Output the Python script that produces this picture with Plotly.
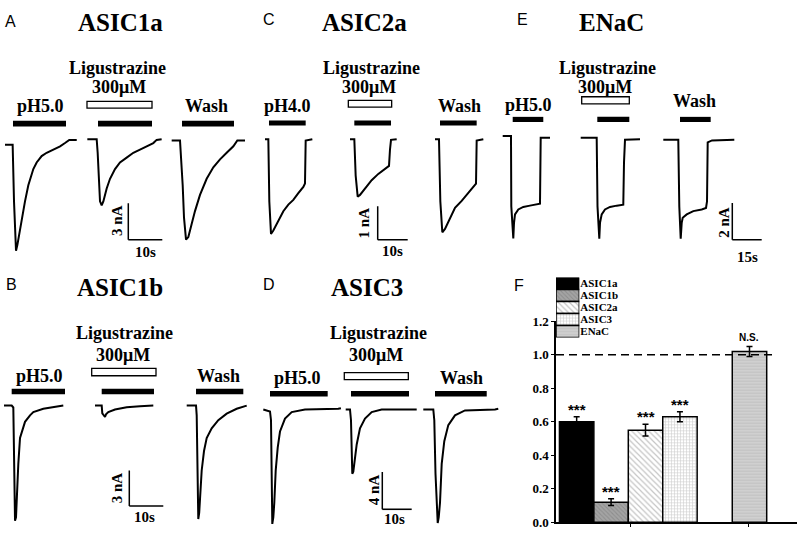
import plotly.graph_objects as go

# ---------------- data ----------------
# Whole-cell currents (time in s, current in nA), one list per sweep:
# [acid alone, acid + ligustrazine 300 uM, wash]

# A - ASIC1a, pH5.0
asic1a_t = [
    [0, 2.25, 2.65, 3.04, 3.24, 3.63, 4.22, 4.9, 5.88, 6.86, 8.33, 9.31, 10.78, 12.25, 14.2, 16.2, 17.65, 18.9, 21.1],
    [0, 2.75, 3.04, 3.73, 4.22, 4.71, 5.69, 6.67, 8.14, 9.61, 11.57, 13.53, 15.49, 17.45, 19.41, 20.39, 21.86],
    [0, 2.45, 3.24, 3.63, 4.22, 4.9, 5.88, 6.86, 8.33, 10.29, 12.25, 14.22, 16.18, 18.14, 19.31, 21.57],
]
asic1a_i = [
    [0, 0, -4.66, -8.4, -8.72, -8.26, -7.33, -6.0, -4.66, -3.33, -2.0, -1.46, -0.93, -0.66, -0.4, -0.13, 0.14, 0.4, 0.4],
    [0.46, 0.46, -0.66, -4.66, -4.98, -4.66, -3.6, -2.8, -2.0, -1.46, -1.06, -0.66, -0.4, -0.13, 0.14, 0.4, 0.46],
    [0.35, 0.35, -3.33, -6.0, -7.81, -7.6, -6.53, -5.46, -4.13, -2.8, -1.86, -1.2, -0.66, -0.13, 0.35, 0.35],
]
asic1a_acid_on = [2.35, 3.14, 3.04]
asic1a_acid_off = [17.94, 19.02, 18.33]
asic1a_drug = [-0.1, 19.02]

# B - ASIC1b, pH5.0
asic1b_t = [
    [0, 2.26, 2.74, 2.94, 3.24, 3.53, 3.74, 4.21, 4.71, 5.21, 6.18, 7.65, 8.62, 11.56, 15.5, 17.44],
    [0, 1.97, 2.15, 2.94, 3.24, 3.91, 5.88, 9.32, 13.24, 17.15],
    [0, 2.74, 2.94, 3.18, 3.41, 3.68, 3.91, 4.41, 5.09, 5.88, 7.35, 9.29, 11.76, 14.7, 17.65],
]
asic1b_i = [
    [0, 0, -0.16, -5.74, -9.7, -9.43, -7.65, -4.92, -2.73, -2.19, -1.37, -0.82, -0.55, -0.27, -0.06, 0],
    [0, 0, -0.66, -0.96, -0.74, -0.55, -0.33, -0.14, -0.06, 0],
    [0, 0, -0.82, -6.56, -9.57, -9.02, -7.65, -5.47, -3.83, -2.73, -1.91, -1.23, -0.68, -0.27, 0],
]
asic1b_acid_on = [2.26, 1.97, 2.74]
asic1b_acid_off = [17.94, 17.35, 16.65]
asic1b_drug = [-0.97, 17.94]

# C - ASIC2a, pH4.0
asic2a_t = [
    [0, 1.11, 1.44, 2.0, 2.78, 4.44, 6.11, 7.78, 9.44, 11.11, 12.78, 13.33, 13.56, 15.78],
    [0, 1.44, 1.89, 2.56, 3.33, 5.0, 7.22, 9.44, 11.67, 13.0, 13.33, 13.67, 15.56],
    [0, 1.33, 1.78, 2.44, 3.33, 5.0, 6.67, 8.89, 11.11, 13.11, 13.67, 13.89, 16.11],
]
asic2a_i = [
    [0, 0, -1.87, -2.84, -2.74, -2.45, -2.16, -1.96, -1.82, -1.62, -1.43, -1.33, -0.04, 0],
    [0, 0, -1.09, -1.72, -1.67, -1.48, -1.23, -1.04, -0.89, -0.8, -0.31, -0.02, 0],
    [0, 0, -1.87, -2.79, -2.69, -2.35, -2.06, -1.85, -1.62, -1.4, -1.33, -0.04, 0],
]
asic2a_acid_on = [1.33, 1.44, 1.67]
asic2a_acid_off = [13.56, 13.67, 13.89]
asic2a_drug = [-0.56, 13.89]

# D - ASIC3, pH5.0
asic3_t = [
    [0, 2.28, 2.62, 2.86, 3.06, 3.4, 3.74, 4.22, 4.9, 5.68, 7.38, 9.66, 14.18, 25.5, 26.4],
    [0, 1.46, 1.8, 2.04, 2.24, 2.59, 2.93, 3.74, 4.86, 6.56, 8.84, 12.24, 24.15],
    [0, 3.4, 3.74, 4.15, 4.9, 5.24, 5.68, 6.26, 7.14, 8.5, 10.78, 14.18, 24.39, 25.5],
]
asic3_i = [
    [0, -0.21, -1.15, -6.88, -12.26, -11.56, -10.0, -6.53, -4.09, -2.36, -0.97, -0.28, 0, 0.07, 0.14],
    [0, 0, -1.15, -4.79, -6.88, -6.67, -5.83, -3.75, -2.01, -0.97, -0.28, 0, 0],
    [0, 0, -1.15, -6.88, -12.16, -11.56, -10.0, -5.83, -3.4, -1.67, -0.63, -0.1, 0, 0.07],
]
asic3_acid_on = [2.28, 1.8, 3.98]
asic3_acid_off = [21.9, 21.53, 21.57]
asic3_drug = [-0.48, 21.3]

# E - ENaC, pH5.0
enac_t = [
    [0, 4.23, 4.39, 5.0, 5.41, 5.77, 6.28, 7.96, 10.5, 13.9, 17.35, 19.03, 19.39, 24.13],
    [0, 8.16, 8.57, 9.08, 9.49, 9.85, 10.71, 12.4, 14.95, 18.37, 21.73, 22.09, 22.24, 22.6, 30.26],
    [0, 7.65, 8.16, 8.52, 8.88, 9.39, 9.9, 11.94, 15.31, 19.6, 21.79, 22.3, 22.65, 24.85, 36.23],
]
enac_i = [
    [0, 0, -3.85, -4.91, -5.6, -4.75, -4.29, -4.02, -3.88, -3.81, -3.76, -3.7, -0.09, -0.09],
    [-0.09, -0.09, -3.85, -4.91, -5.62, -4.75, -4.29, -4.02, -3.88, -3.81, -3.76, -1.45, -0.3, -0.21, -0.18],
    [-0.21, -0.21, -3.85, -4.91, -5.62, -4.75, -4.47, -4.29, -4.11, -4.02, -3.94, -3.58, -0.35, -0.24, -0.21],
]
enac_acid_on = [5.1, 8.47, 8.52]
enac_acid_off = [20.71, 24.8, 24.18]
enac_drug = [0.51, 24.8]

# F - normalized current with ligustrazine
channels = ['ASIC1a', 'ASIC1b', 'ASIC2a', 'ASIC3', 'ENaC']
ratio = [0.60, 0.12, 0.55, 0.63, 1.02]
ratio_sem = [0.03, 0.02, 0.035, 0.03, 0.03]
signif = ['***', '***', '***', '***', 'N.S.']

# ---------------- drawing ----------------
W, H = 800, 539
SERIF = 'Liberation Serif, Times New Roman, serif'
SANS = 'Liberation Sans, Arial, sans-serif'


def pxx(px):
    return px / W


def pxy(py):
    return 1 - py / H


fig = go.Figure()
layout = {}


def label(text, xy, size, family=SERIF, weight='bold', angle=0, xanchor='center'):
    fig.add_annotation(text=text, x=pxx(xy[0]), y=pxy(xy[1]), xref='paper', yref='paper',
                       showarrow=False, textangle=angle, xanchor=xanchor, yanchor='middle',
                       font=dict(family=family, size=size, color='black', weight=weight))


panels = [
    dict(title='ASIC1a', letter='A', acid='pH5.0', t=asic1a_t, i=asic1a_i, on=asic1a_acid_on,
         off=asic1a_acid_off, drug=asic1a_drug, sb=(10, 3),
         dom_x=(0, 255), dom_y=(125, 262), zero_y=141.7, pps=3.4, ppn=12.5,
         starts=(5, 87.33, 171.67), bar_y=(117, 123), open_y=(97, 104), corner=(128.3, 239.3),
         letter_xy=(3, 15), title_xy=(120, 16), lig_xy=(117.5, 62.5), conc_xy=(118.5, 82.5),
         acid_xy=(40, 101.5), wash_xy=(206.5, 101.5), na_xy=(117, 220), s_xy=(145, 252)),
    dict(title='ASIC2a', letter='C', acid='pH4.0', t=asic2a_t, i=asic2a_i, on=asic2a_acid_on,
         off=asic2a_acid_off, drug=asic2a_drug, sb=(10, 1),
         dom_x=(258, 500), dom_y=(125, 262), zero_y=136, pps=3.0, ppn=34.3,
         starts=(265, 350, 435), bar_y=(116.7, 122), open_y=(96, 103), corner=(377.7, 239.3),
         letter_xy=(261, 12.5), title_xy=(364, 16), lig_xy=(371, 62.5), conc_xy=(369, 82.5),
         acid_xy=(287.5, 101.5), wash_xy=(459, 101.5), na_xy=(363.6, 222), s_xy=(392.5, 251)),
    dict(title='ENaC', letter='E', acid='pH5.0', t=enac_t, i=enac_i, on=enac_acid_on,
         off=enac_acid_off, drug=enac_drug, sb=(15, 2),
         dom_x=(500, 800), dom_y=(120, 262), zero_y=132.7, pps=1.96, ppn=18.8,
         starts=(502.7, 580.7, 663.3), bar_y=(113, 118.3), open_y=(92.3, 99.6), corner=(732.3, 239.3),
         letter_xy=(515, 12.5), title_xy=(611.7, 16), lig_xy=(607.5, 62.5), conc_xy=(605, 82.5),
         acid_xy=(528, 101), wash_xy=(694.5, 97), na_xy=(724, 222), s_xy=(747.5, 256.7)),
    dict(title='ASIC1b', letter='B', acid='pH5.0', t=asic1b_t, i=asic1b_i, on=asic1b_acid_on,
         off=asic1b_acid_off, drug=asic1b_drug, sb=(10, 3),
         dom_x=(0, 255), dom_y=(400, 539), zero_y=410, pps=3.4, ppn=12.2,
         starts=(4, 95, 186.7), bar_y=(392.7, 398.3), open_y=(371.7, 379.3), corner=(129.3, 513.3),
         letter_xy=(4, 285), title_xy=(120, 288.5), lig_xy=(124, 335), conc_xy=(123, 357.5),
         acid_xy=(39, 380), wash_xy=(218.5, 380), na_xy=(117, 495), s_xy=(144, 525)),
    dict(title='ASIC3', letter='D', acid='pH5.0', t=asic3_t, i=asic3_i, on=asic3_acid_on,
         off=asic3_acid_off, drug=asic3_drug, sb=(10, 4),
         dom_x=(258, 510), dom_y=(400, 539), zero_y=414, pps=2.94, ppn=9.6,
         starts=(263.3, 345.7, 423.3), bar_y=(395, 400.7), open_y=(376, 383.3), corner=(382.3, 516.7),
         letter_xy=(261, 285), title_xy=(366.7, 288.5), lig_xy=(378, 335), conc_xy=(375.5, 357.5),
         acid_xy=(297.5, 381.5), wash_xy=(461, 381.5), na_xy=(373.5, 496.5), s_xy=(394, 526.7)),
]

for k, p in enumerate(panels, start=1):
    xa = 'x' if k == 1 else f'x{k}'
    ya = 'y' if k == 1 else f'y{k}'
    xkey = 'xaxis' if k == 1 else f'xaxis{k}'
    ykey = 'yaxis' if k == 1 else f'yaxis{k}'
    x0, x1 = p['dom_x']
    ytop, ybot = p['dom_y']
    layout[xkey] = dict(domain=[pxx(x0), pxx(x1)], range=[0, (x1 - x0) / p['pps']],
                        visible=False, anchor=ya, fixedrange=True)
    layout[ykey] = dict(domain=[pxy(ybot), pxy(ytop)],
                        range=[-(ybot - p['zero_y']) / p['ppn'], (p['zero_y'] - ytop) / p['ppn']],
                        visible=False, anchor=xa, fixedrange=True)
    offs = [(s - x0) / p['pps'] for s in p['starts']]

    for j in range(3):
        fig.add_trace(go.Scatter(x=[t + offs[j] for t in p['t'][j]], y=p['i'][j], mode='lines',
                                 line=dict(color='black', width=2), xaxis=xa, yaxis=ya,
                                 showlegend=False, hoverinfo='skip'))
        # acid application bar
        fig.add_shape(type='rect', xref=xa, yref='paper',
                      x0=offs[j] + p['on'][j], x1=offs[j] + p['off'][j],
                      y0=pxy(p['bar_y'][1]), y1=pxy(p['bar_y'][0]),
                      fillcolor='black', line_width=0)
    # ligustrazine bar (open) over the 2nd sweep
    fig.add_shape(type='rect', xref=xa, yref='paper',
                  x0=offs[1] + p['drug'][0], x1=offs[1] + p['drug'][1],
                  y0=pxy(p['open_y'][1]), y1=pxy(p['open_y'][0]),
                  fillcolor='white', line=dict(color='black', width=1.3))

    # scale bar
    sb_s, sb_na = p['sb']
    cx = (p['corner'][0] - x0) / p['pps']
    cy = -(p['corner'][1] - p['zero_y']) / p['ppn']
    fig.add_shape(type='line', xref=xa, yref=ya, x0=cx, y0=cy, x1=cx, y1=cy + sb_na,
                  line=dict(color='black', width=1.5))
    fig.add_shape(type='line', xref=xa, yref=ya, x0=cx, y0=cy, x1=cx + sb_s, y1=cy,
                  line=dict(color='black', width=1.5))

    label(p['letter'], p['letter_xy'], 16, family=SANS, weight='normal', xanchor='left')
    label(p['title'], p['title_xy'], 25)
    label('Ligustrazine', p['lig_xy'], 18)
    label('300μM', p['conc_xy'], 18)
    label(p['acid'], p['acid_xy'], 18)
    label('Wash', p['wash_xy'], 18)
    label(f'{sb_na} nA', p['na_xy'], 15, angle=-90)
    label(f'{sb_s}s', p['s_xy'], 15)

# ---- panel F ----
bar_pos = [0.6, 1.6, 2.6, 3.6, 5.62]
styles = [
    dict(color='black'),
    dict(color='#a4a4a4', pattern=dict(shape='\\', fgcolor='#777777', bgcolor='#a4a4a4', size=3, solidity=0.35)),
    dict(color='white', pattern=dict(shape='\\', fgcolor='#8a8a8a', bgcolor='white', size=4, solidity=0.3)),
    dict(color='white', pattern=dict(shape='+', fgcolor='#9c9c9c', bgcolor='white', size=3, solidity=0.35)),
    dict(color='#c6c6c6', pattern=dict(shape='-', fgcolor='#e6e6e6', bgcolor='#c6c6c6', size=3, solidity=0.3)),
]

for n, v, e, xp, st in zip(channels, ratio, ratio_sem, bar_pos, styles):
    fig.add_trace(go.Bar(x=[xp], y=[v], width=1, name=n, xaxis='x6', yaxis='y6',
                         marker=dict(line=dict(color='black', width=1.5), **st),
                         error_y=dict(type='data', array=[e], color='black', thickness=1.5, width=3),
                         showlegend=False, hoverinfo='skip'))
    # legend swatch
    fig.add_trace(go.Bar(x=[1], y=[channels.index(n)], orientation='h', width=1, xaxis='x7', yaxis='y7',
                         marker=dict(line=dict(color='black', width=1.5), **st),
                         showlegend=False, hoverinfo='skip'))

for s, v, e, xp in zip(signif, ratio, ratio_sem, bar_pos):
    is_star = s.startswith('*')
    fig.add_annotation(text=s, x=xp, y=v + e + (0.045 if is_star else 0.055), xref='x6', yref='y6',
                       showarrow=False, yanchor='middle',
                       font=dict(family=SANS, size=15 if is_star else 10, color='black', weight='bold'))

# dashed reference at 1.0
fig.add_shape(type='line', xref='x6', yref='y6', x0=0, x1=6.31, y0=1.0, y1=1.0,
              line=dict(color='black', width=1.5, dash='8px,5px'), layer='above')

layout['xaxis6'] = dict(domain=[pxx(556), pxx(797)], range=[0, 7], anchor='y6',
                        showline=True, linecolor='black', linewidth=1.5, showgrid=False,
                        zeroline=False, ticks='outside', ticklen=3, tickwidth=1.2, tickcolor='black',
                        tickvals=[2.15, 5.6], showticklabels=False, fixedrange=True)
layout['yaxis6'] = dict(domain=[pxy(530), pxy(323.3)], range=[0, 1.2], anchor='x6',
                        showline=True, linecolor='black', linewidth=1.5, showgrid=False,
                        zeroline=False, ticks='outside', ticklen=3, tickwidth=1.2, tickcolor='black',
                        tickvals=[0, 0.2, 0.4, 0.6, 0.8, 1.0, 1.2], tickformat='.1f',
                        tickfont=dict(family=SERIF, size=13, color='black', weight='bold'),
                        fixedrange=True)
layout['xaxis7'] = dict(domain=[pxx(556), pxx(579.3)], range=[0, 1], anchor='y7',
                        visible=False, fixedrange=True)
layout['yaxis7'] = dict(domain=[pxy(340), pxy(278.3)], range=[4.5, -0.5], anchor='x7', side='right',
                        showline=False, showgrid=False, zeroline=False, ticks='',
                        tickvals=list(range(len(channels))), ticktext=channels,
                        tickfont=dict(family=SERIF, size=11, color='black', weight='bold'),
                        fixedrange=True)

label('F', (512, 286), 16, family=SANS, weight='normal', xanchor='left')

fig.update_layout(width=W, height=H, margin=dict(l=0, r=0, t=0, b=0),
                  paper_bgcolor='white', plot_bgcolor='white', showlegend=False,
                  barmode='overlay', **layout)

# the page body has a default 8px margin; drop it so the figure sits at the window corner
fig.write_html("out.html", config={'displayModeBar': False},
               post_script="document.body.style.margin='0';")
